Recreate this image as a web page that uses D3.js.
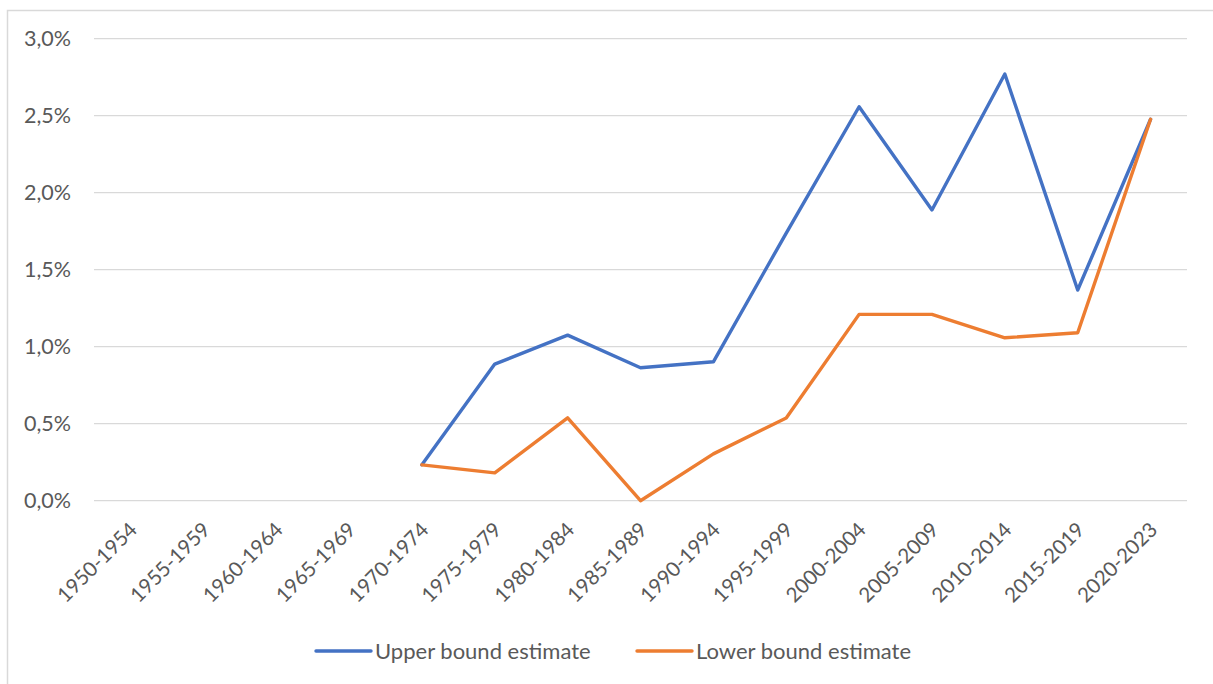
<!DOCTYPE html>
<html><head><meta charset="utf-8">
<script src="https://cdn.jsdelivr.net/npm/d3@7"></script>
<style>body{margin:0;background:#fff}svg{display:block}text{font-family:Lato,"Open Sans",sans-serif;fill:#595959}</style>
</head><body><svg id="c" width="1213" height="684"></svg>
<script>
const categories = ["1950-1954","1955-1959","1960-1964","1965-1969","1970-1974","1975-1979","1980-1984","1985-1989","1990-1994","1995-1999","2000-2004","2005-2009","2010-2014","2015-2019","2020-2023"];
const upper = [null,null,null,null,0.233,0.887,1.075,0.863,0.902,1.738,2.558,1.888,2.771,1.368,2.477];
const lower = [null,null,null,null,0.233,0.181,0.538,0.0,0.304,0.537,1.21,1.21,1.058,1.091,2.477];
const yTicks = [0,0.5,1,1.5,2,2.5,3];
const seriesNames = ["Upper bound estimate","Lower bound estimate"];
const colors = ["#4472C4","#ED7D31"];

const svg = d3.select("#c");
svg.append("rect").attr("x",7.5).attr("y",10.5).attr("width",1220).attr("height",700)
  .attr("fill","none").attr("stroke","#d9d9d9").attr("stroke-width",1.5);

const x = d3.scaleBand().domain(categories).range([94,1187]).padding(0);
const y = d3.scaleLinear().domain([0,3]).range([500.7,38.7]);

const g = svg.append("g");
g.selectAll("line.grid").data(yTicks).join("line").attr("class","grid")
  .attr("x1",94).attr("x2",1187).attr("y1",d=>y(d)).attr("y2",d=>y(d))
  .attr("stroke","#d9d9d9").attr("stroke-width",1.3);
const fmt = d => d.toFixed(1).replace(".",",")+"%";
g.selectAll("text.yl").data(yTicks).join("text").attr("class","yl")
  .attr("x",71).attr("y",d=>y(d)).attr("dy","0.36em").attr("text-anchor","end")
  .attr("font-size",21.5).text(fmt);

g.selectAll("text.xl").data(categories).join("text").attr("class","xl")
  .attr("transform",d=>`translate(${x(d)+x.bandwidth()/2+8},${531}) rotate(-45)`)
  .attr("text-anchor","end").attr("font-size",20.5).text(d=>d);

const line = d3.line().defined(d=>d.v!=null)
  .x(d=>x(d.c)+x.bandwidth()/2).y(d=>y(d.v));
[upper,lower].forEach((s,i)=>{
  g.append("path").datum(categories.map((c,j)=>({c,v:s[j]})))
   .attr("d",line).attr("fill","none").attr("stroke",colors[i])
   .attr("stroke-width",3.4).attr("stroke-linejoin","round").attr("stroke-linecap","round");
});

const legX = [316,637];
seriesNames.forEach((n,i)=>{
  svg.append("line").attr("x1",legX[i]).attr("x2",legX[i]+55).attr("y1",651).attr("y2",651)
    .attr("stroke",colors[i]).attr("stroke-width",3.4).attr("stroke-linecap","round");
  svg.append("text").attr("x",legX[i]+59).attr("y",651).attr("dy","0.36em")
    .attr("font-size",22).text(n);
});
</script></body></html>
